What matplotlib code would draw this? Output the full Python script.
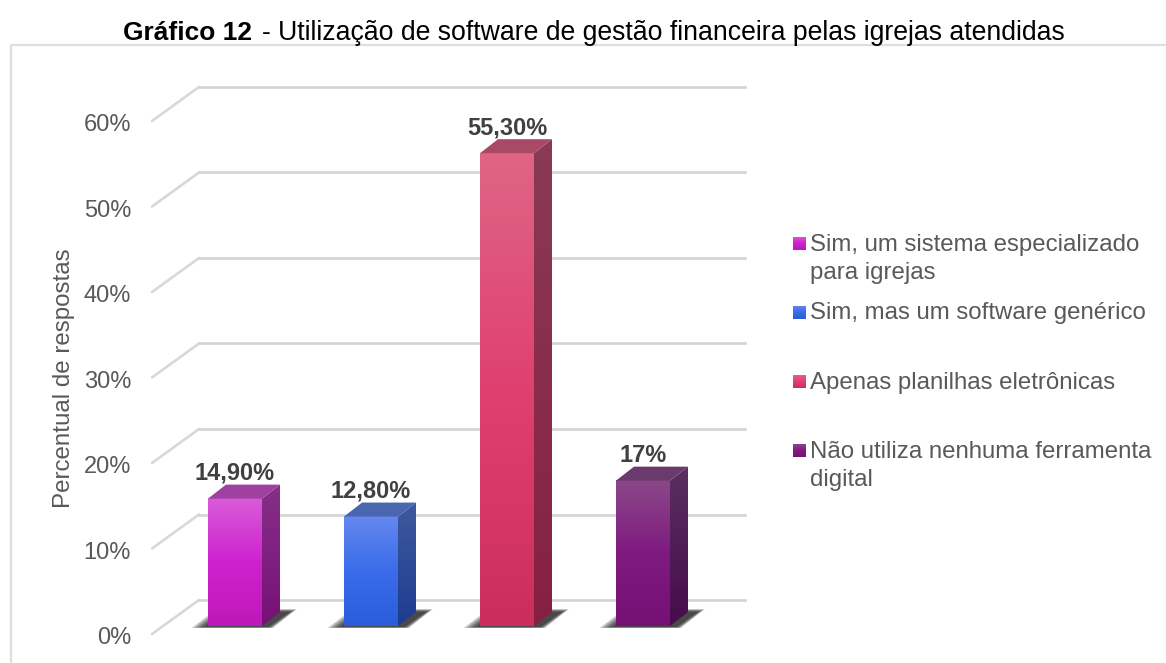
import numpy as np
from matplotlib import pyplot as plt
from matplotlib.colors import LinearSegmentedColormap
from matplotlib.patches import Polygon

plt.rcParams['font.family'] = ['Liberation Sans', 'DejaVu Sans']

# Dados do gráfico
categorias = ['Sim, um sistema especializado\npara igrejas', 'Sim, mas um software genérico',
              'Apenas planilhas eletrônicas', 'Não utiliza nenhuma ferramenta\ndigital']
valores = [14.9, 12.8, 55.3, 17]
rotulos = ['14,90%', '12,80%', '55,30%', '17%']
ticks = [0, 10, 20, 30, 40, 50, 60]
tick_labels = ['0%', '10%', '20%', '30%', '40%', '50%', '60%']

# Cores: frente (topo, meio, base), lateral (topo, base), tampa
cores_frente = [['#D85CD8', '#CF22CF', '#BE18B8'], ['#6488EE', '#3A6CEA', '#2A5CDC'],
                ['#DF6585', '#E04070', '#CC2E5C'], ['#8A4888', '#7F1A80', '#761075']]
cores_lado = [['#863088', '#771076'], ['#3E5A9E', '#1E3C90'],
              ['#8A3A55', '#872040'], ['#5A3060', '#460C4C']]
cores_tampa = ['#A040A0', '#4A66AE', '#A84A66', '#6A3A6C']

W, H = 1166, 663
PX_X = 136.0   # pixels por categoria
PX_Y = 8.55    # pixels por ponto percentual
X0, Y0 = 235.0, 626.0   # pixel do centro da 1a barra e da base das barras

fig = plt.figure(figsize=(W / 100, H / 100), dpi=100)
ax = fig.add_axes([0, 0, 1, 1])


def dx(p):
    return p / PX_X


def dy(p):
    return p / PX_Y


def gradiente(cores, extent, clip=None):
    cmap = LinearSegmentedColormap.from_list('g', cores)
    im = ax.imshow(np.linspace(0, 1, 256).reshape(-1, 1), cmap=cmap, extent=extent,
                   origin='upper', aspect='auto', zorder=3, interpolation='bilinear')
    if clip is not None:
        patch = Polygon(clip, closed=True, transform=ax.transData, fc='none', ec='none')
        ax.add_patch(patch)
        im.set_clip_path(patch)
    return im


# Grade em perspectiva
x_esq = dx(152 - X0)
x_fundo = dx(199 - X0)
x_dir = dx(745 - X0)
for t in ticks:
    y_frente = t + dy(-8)
    y_fundo = t + dy(26)
    ax.plot([x_esq, x_fundo], [y_frente, y_fundo], color='#D8D8D8', lw=1.9, zorder=1,
            solid_capstyle='round')
    ax.plot([x_fundo, x_dir], [y_fundo, y_fundo], color='#D4D4D4', lw=1.9, zorder=1)
    ax.text(dx(131 - X0), y_frente - dy(4.5), tick_labels[t // 10], ha='right', va='center',
            fontsize=17, color='#595959')

# Barras em 3D
meia = dx(27)
prof_x, prof_y = dx(18), dy(14)
for i, v in enumerate(valores):
    esq, dir_ = i - meia, i + meia
    # sombra desfocada: do contorno externo para o interno
    for k in np.linspace(0, 1, 14):
        sombra = [(esq - dx(17 - 14 * k), dy(-2 + k)), (dir_ + dx(11 - 5 * k), dy(-2 + k)),
                  (dir_ + dx(35 - 7 * k), dy(17 - 3 * k)), (esq + dx(8 + 10 * k), dy(17 - 3 * k))]
        ax.add_patch(Polygon(sombra, closed=True, fc='#1A1A1A', ec='none', alpha=0.1, zorder=2))
    gradiente(cores_frente[i], [esq, dir_, 0, v])
    lado = [(dir_, 0), (dir_ + prof_x, prof_y), (dir_ + prof_x, v + prof_y), (dir_, v)]
    gradiente(cores_lado[i], [dir_, dir_ + prof_x, 0, v + prof_y], clip=lado)
    tampa = [(esq, v), (dir_, v), (dir_ + prof_x, v + prof_y), (esq + prof_x, v + prof_y)]
    ax.add_patch(Polygon(tampa, closed=True, fc=cores_tampa[i], ec='none', zorder=3))
    ax.text(i, v + dy(19), rotulos[i], ha='center', va='baseline', fontsize=17,
            fontweight='bold', color='#404040', zorder=5)

ax.set_xlim(-X0 / PX_X, (W - X0) / PX_X)
ax.set_ylim(-(H - Y0) / PX_Y, Y0 / PX_Y)
ax.axis('off')

# Moldura (sem lado direito nem inferior)
fig.add_artist(plt.Line2D([11 / W, 11 / W, 1], [0, 1 - 45 / H, 1 - 45 / H], color='#DEDEDE', lw=1.6))

# Título
fig.text(123 / W, 1 - 40 / H, 'Gráfico 12', fontsize=19, fontweight='bold', color='black')
fig.text(262 / W, 1 - 40 / H, '- Utilização de software de gestão financeira pelas igrejas atendidas',
         fontsize=19.15, color='black')

fig.text(64 / W, 1 - 378 / H, 'Percentual de respostas', rotation=90, fontsize=17.4,
         color='#595959', ha='center', va='center')

# Legenda
legenda_y = [243.5, 312.5, 381.5, 450.5]
for nome, cy, cores in zip(categorias, legenda_y, cores_frente):
    eixo = fig.add_axes([793 / W, 1 - (cy + 6.5) / H, 13 / W, 13 / H])
    eixo.imshow(np.linspace(0, 1, 64).reshape(-1, 1), aspect='auto',
                cmap=LinearSegmentedColormap.from_list('g', cores))
    eixo.axis('off')
    fig.text(810 / W, 1 - (cy - 10) / H, nome, fontsize=17.3, color='#595959', va='top',
             linespacing=1.37)

fig.savefig('out.png', dpi=100)
